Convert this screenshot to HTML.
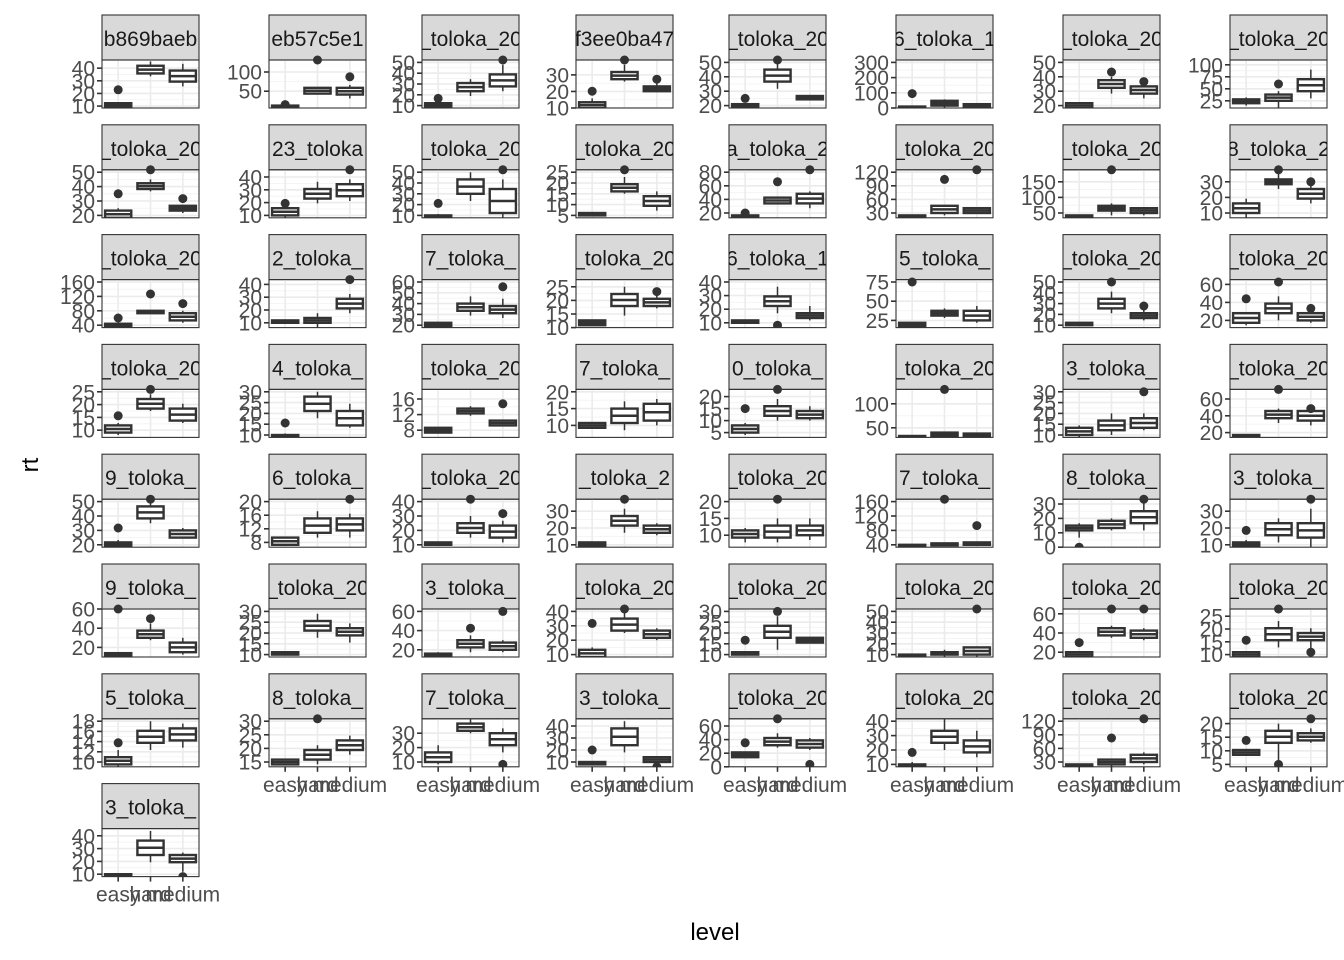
<!DOCTYPE html>
<html><head><meta charset="utf-8"><style>body{margin:0;background:#fff}svg{display:block}</style></head>
<body>
<svg id="s" xmlns="http://www.w3.org/2000/svg" width="1344" height="960" viewBox="0 0 1344 960" font-family="Liberation Sans, sans-serif"></svg>
<script>
var D=[
["b869baeb",[10,20,30,40],.04,.83,[[.03,.1,0,.12,.38],[.72,.88,.66,.97],[.55,.78,.45,.92]]],
["eb57c5e1",[50,100],.35,.75,[[0,.05,0,.06,.07],[.3,.42,.3,.42,1],[.28,.42,.2,.48,.65]]],
["_toloka_20",[10,20,30,40,50],.05,.95,[[.02,.1,0,.13,.2],[.35,.52,.25,.6],[.45,.7,.35,.9,1]]],
["f3ee0ba47",[10,20,30],0,.69,[[0,.12,0,.2,.35],[.6,.75,.55,.9,1],[.35,.45,.35,.55,.6]]],
["_toloka_20",[20,30,40,50],.05,.95,[[0,.08,0,.1,.2],[.55,.8,.4,.95,1],[.18,.25,.18,.25]]],
["6_toloka_1",[0,100,200,300],0,.95,[[0,.03,0,.05,.3],[.05,.15,0,.18],[0,.08,0,.1]]],
["_toloka_20",[20,30,40,50],.05,.95,[[0,.1,0,.12],[.42,.58,.3,.65,.75],[.3,.45,.2,.5,.55]]],
["_toloka_20",[25,50,75,100],.15,.9,[[.1,.18,.05,.22],[.15,.28,0,.35,.5],[.35,.6,.2,.8]]],
["_toloka_20",[20,30,40,50],.05,.95,[[0,.15,0,.2,.5],[.6,.72,.55,.8,1],[.15,.25,.1,.25,.4]]],
["23_toloka",[10,20,30,40],.05,.85,[[.05,.2,0,.25,.3],[.4,.6,.3,.75],[.45,.7,.35,.8,1]]],
["_toloka_20",[10,20,30,40,50],.05,.95,[[0,.05,0,.08,.3],[.5,.8,.35,.95],[.1,.6,0,.8,1]]],
["_toloka_20",[5,10,15,20,25],.05,.95,[[.05,.1,.05,.12],[.55,.7,.5,.85,1],[.25,.45,.15,.55]]],
["a_toloka_2",[20,40,60,80],.1,.95,[[0,.05,0,.1,.1],[.3,.42,.3,.42,.75],[.3,.5,.2,.55,1]]],
["_toloka_20",[30,60,90,120],.1,.95,[[0,.05,0,.06],[.1,.25,.05,.25,.8],[.1,.2,.1,.2,1]]],
["_toloka_20",[50,100,150],.1,.75,[[0,.05,0,.05],[.15,.25,.05,.3,1],[.1,.2,.05,.2]]],
["8_toloka_2",[10,20,30],.1,.75,[[.1,.3,0,.4],[.7,.8,.6,.95,1],[.4,.6,.3,.7,.75]]],
["_toloka_20",[40,80,120,160],.05,.95,[[0,.08,0,.1,.2],[.3,.35,.3,.35,.7],[.15,.3,.1,.35,.5]]],
["2_toloka_",[10,20,30,40],.1,.9,[[.1,.15,.1,.15],[.1,.2,0,.3],[.4,.6,.3,.7,1]]],
["7_toloka_",[20,30,40,50,60],.05,.95,[[0,.1,0,.12],[.35,.5,.25,.65],[.3,.45,.2,.6,.85]]],
["_toloka_20",[10,15,20,25],0,.85,[[.05,.15,.05,.15],[.45,.7,.25,.85],[.45,.6,.4,.7,.75]]],
["6_toloka_1",[10,20,30,40],.1,.95,[[.1,.15,.1,.15],[.45,.65,.3,.85,.05],[.2,.3,.15,.45]]],
["5_toloka_",[25,50,75],.15,.95,[[0,.1,0,.1,.95],[.25,.35,.2,.4],[.15,.35,.1,.45]]],
["_toloka_20",[10,20,30,40,50],.05,.95,[[.05,.1,.05,.1],[.4,.6,.3,.75,.95],[.2,.3,.15,.4,.45]]],
["_toloka_20",[20,40,60],.15,.9,[[.1,.3,.05,.3,.6],[.3,.5,.15,.65,.95],[.15,.3,.1,.35,.4]]],
["_toloka_20",[10,15,20,25],.15,.95,[[.1,.25,.05,.3,.45],[.6,.8,.55,.9,1],[.35,.6,.3,.7]]],
["4_toloka_",[10,15,20,25,30],.05,.95,[[0,.05,0,.08,.3],[.55,.85,.4,.95],[.25,.55,.2,.7]]],
["_toloka_20",[8,12,16],.15,.8,[[.1,.2,.1,.2],[.5,.6,.45,.65],[.25,.35,.25,.35,.7]]],
["7_toloka_",[10,15,20],.25,.95,[[.2,.3,.2,.3],[.3,.6,.15,.75],[.35,.7,.25,.8]]],
["0_toloka_",[5,10,15,20],.1,.85,[[.1,.25,.05,.3,.6],[.45,.65,.35,.8,1],[.4,.55,.35,.65]]],
["_toloka_20",[50,100],.2,.7,[[0,.03,0,.05],[.02,.1,0,.1,1],[0,.08,0,.1]]],
["3_toloka_",[10,15,20,25,30],.05,.95,[[.05,.2,0,.25],[.15,.35,.05,.5],[.2,.4,.15,.5,.95]]],
["_toloka_20",[20,40,60],.1,.8,[[0,.05,0,.05],[.4,.55,.3,.6,1],[.35,.55,.25,.6,.6]]],
["9_toloka_",[20,30,40,50],.05,.95,[[0,.1,0,.15,.4],[.6,.85,.5,.95,1],[.2,.35,.2,.4]]],
["6_toloka_",[8,12,16,20],.1,.95,[[.05,.2,.05,.2],[.3,.6,.2,.75],[.35,.6,.2,.7,1]]],
["_toloka_20",[10,20,30,40],.05,.95,[[.05,.1,.05,.1],[.3,.5,.2,.65,1],[.2,.45,.1,.55,.7]]],
["_toloka_2",[10,20,30],.05,.75,[[0,.1,0,.12],[.45,.65,.3,.8,1],[.3,.45,.25,.5]]],
["_toloka_20",[10,15,20],.25,.95,[[.2,.35,.1,.4],[.2,.45,.1,.6,1],[.25,.45,.15,.6]]],
["7_toloka_",[40,80,120,160],.05,.95,[[0,.05,0,.05],[.05,.08,.05,.08,1],[.05,.1,.05,.1,.45]]],
["8_toloka_",[0,10,20,30],0,.9,[[.35,.45,.2,.5,0],[.4,.55,.35,.6],[.5,.75,.35,.95,1]]],
["3_toloka_",[10,20,30],.05,.75,[[0,.1,0,.15,.35],[.25,.5,.1,.6],[.2,.5,0,.8,1]]],
["9_toloka_",[20,40,60],.2,1,[[0,.08,0,.08,1],[.4,.55,.35,.7,.8],[.1,.3,.05,.4]]],
["_toloka_20",[10,15,20,25,30],.05,.95,[[.05,.1,.05,.1],[.55,.75,.4,.9],[.45,.6,.3,.7]]],
["3_toloka_",[20,40,60],.15,.95,[[0,.07,0,.1],[.2,.35,.1,.45,.6],[.15,.3,.1,.35,.95]]],
["_toloka_20",[10,20,30,40],.05,.95,[[0,.15,0,.2,.7],[.55,.8,.5,.95,1],[.4,.55,.35,.6]]],
["_toloka_20",[10,15,20,25,30],.05,.95,[[.05,.1,.05,.1,.35],[.4,.65,.15,.85,.95],[.3,.4,.3,.4]]],
["_toloka_20",[10,20,30,40,50],.05,.95,[[0,.05,0,.05],[.05,.1,0,.15],[.05,.2,0,.2,1]]],
["_toloka_20",[20,40,60],.1,.9,[[0,.1,0,.12,.3],[.45,.6,.4,.65,1],[.4,.55,.35,.6,1]]],
["_toloka_20",[10,15,20,25],.05,.85,[[0,.1,0,.12,.35],[.35,.6,.2,.75,1],[.35,.5,.1,.6,.1]]],
["5_toloka_",[10,12,14,16,18],.1,.95,[[.05,.2,0,.35,.5],[.5,.75,.35,.95],[.55,.8,.4,.9]]],
["8_toloka_",[15,20,25,30],.1,.95,[[.05,.15,.05,.15],[.15,.35,.05,.45,1],[.35,.55,.25,.65]]],
["7_toloka_",[10,20,30],.1,.7,[[.1,.3,.05,.45],[.75,.9,.7,1],[.45,.7,.3,.8,.05]]],
["3_toloka_",[10,20,30,40],.1,.85,[[.05,.1,.05,.1,.35],[.45,.8,.3,.95],[.1,.2,.05,.2,0]]],
["_toloka_20",[0,20,40,60],0,.85,[[.2,.3,.2,.3,.5],[.45,.6,.4,.7,1],[.4,.55,.35,.6,.05]]],
["_toloka_20",[10,20,30,40],.05,.95,[[0,.05,0,.1,.3],[.5,.75,.35,1],[.3,.55,.2,.75]]],
["_toloka_20",[30,60,90,120],.1,.95,[[0,.05,0,.05],[.05,.15,0,.15,.6],[.1,.25,.05,.3,1]]],
["_toloka_20",[5,10,15,20],.05,.9,[[.25,.35,.25,.35,.55],[.5,.75,.05,.9,.05],[.55,.7,.5,.8,1]]],
["3_toloka_",[10,20,30,40],.05,.85,[[0,.05,0,.05],[.45,.75,.3,.95],[.3,.45,.1,.5,0]]]
];
var XL=[102,269,422,576,729,896,1063,1230],W=97,SH=45,PH=48;
var o='';
D.forEach(function(d,i){
 var r=Math.floor(i/8),c=i%8,x=XL[c],sy=15+r*109.8,py=sy+SH;
 function Y(f){return py+PH-f*PH;}
 o+='<clipPath id="c'+i+'"><rect x="'+x+'" y="'+sy+'" width="'+W+'" height="'+(SH+PH)+'"/></clipPath>';
 o+='<rect x="'+x+'" y="'+sy+'" width="'+W+'" height="'+SH+'" fill="#d9d9d9" stroke="#333" stroke-width="1.1"/>';
 o+='<text x="'+(x+W/2)+'" y="'+(sy+31)+'" font-size="21" fill="#1a1a1a" text-anchor="middle" clip-path="url(#c'+i+')">'+d[0]+'</text>';
 o+='<g clip-path="url(#c'+i+')">';
 var t=d[1],n=t.length,fb=d[2],ft=d[3];
 for(var k=0;k<n;k++){var f=n>1?fb+(ft-fb)*k/(n-1):fb;
  o+='<line x1="'+x+'" x2="'+(x+W)+'" y1="'+Y(f)+'" y2="'+Y(f)+'" stroke="#ebebeb" stroke-width="1.6"/>';
  if(k<n-1){var fm=f+(ft-fb)/(n-1)/2;o+='<line x1="'+x+'" x2="'+(x+W)+'" y1="'+Y(fm)+'" y2="'+Y(fm)+'" stroke="#f2f2f2" stroke-width="0.8"/>';}}
 var cx=[x+W/6,x+W/2,x+5*W/6];
 cx.forEach(function(X){o+='<line x1="'+X+'" x2="'+X+'" y1="'+py+'" y2="'+(py+PH)+'" stroke="#ebebeb" stroke-width="1.6"/>';});
 d[4].forEach(function(b,j){var X=cx[j],bw=W*0.27;
  o+='<line x1="'+X+'" x2="'+X+'" y1="'+Y(b[3])+'" y2="'+Y(b[2])+'" stroke="#333" stroke-width="1.5"/>';
  var y1=Y(b[1]),y0=Y(b[0]);
  o+='<rect x="'+(X-bw/2)+'" y="'+y1+'" width="'+bw+'" height="'+Math.max(y0-y1,2)+'" fill="#fff" stroke="#333" stroke-width="2.4"/>';
  var ym=(y0+y1)/2;o+='<line x1="'+(X-bw/2)+'" x2="'+(X+bw/2)+'" y1="'+ym+'" y2="'+ym+'" stroke="#333" stroke-width="2.5"/>';
  if(b.length>4)o+='<circle cx="'+X+'" cy="'+Y(b[4])+'" r="4.5" fill="#333"/>';
 });
 o+='</g><rect x="'+x+'" y="'+py+'" width="'+W+'" height="'+PH+'" fill="none" stroke="#333" stroke-width="1.1"/>';
 for(var k=0;k<n;k++){var f=n>1?fb+(ft-fb)*k/(n-1):fb,yy=Y(f);
  o+='<line x1="'+(x-5)+'" x2="'+x+'" y1="'+yy+'" y2="'+yy+'" stroke="#333" stroke-width="1.6"/>';
  o+='<text x="'+(x-7)+'" y="'+(yy+7.5)+'" font-size="21" fill="#4d4d4d" text-anchor="end">'+t[k]+'</text>';}
 if(r==7||(r==6&&c>0)){var by=py+PH;
  ['easy','hard','medium'].forEach(function(s,j){o+='<line x1="'+cx[j]+'" x2="'+cx[j]+'" y1="'+by+'" y2="'+(by+5)+'" stroke="#333" stroke-width="1.6"/>';
   o+='<text x="'+cx[j]+'" y="'+(by+25)+'" font-size="21" fill="#4d4d4d" text-anchor="middle">'+s+'</text>';});}
});
o+='<text x="715" y="940" font-size="24" fill="#000" text-anchor="middle">level</text>';
o+='<text transform="translate(38,465) rotate(-90)" font-size="24" fill="#000" text-anchor="middle">rt</text>';
document.getElementById('s').innerHTML=o;
</script>
</body></html>
